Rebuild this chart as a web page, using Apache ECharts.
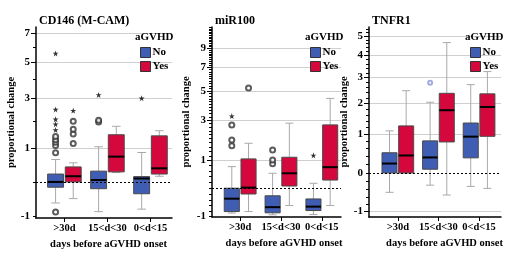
<!DOCTYPE html>
<html>
<head>
<meta charset="utf-8">
<script src="https://cdn.jsdelivr.net/npm/echarts@6/dist/echarts.min.js"></script>
<style>
  html, body { margin: 0; padding: 0; background: #fff; }
  #chart { width: 520px; height: 272px; }
</style>
</head>
<body>
<div id="chart"></div>
<script>
const categories = ['>30d', '15<d<30', '0<d<15'];
const panelTitles = ['CD146 (M-CAM)', 'miR100', 'TNFR1'];

// box stats per category: [min, Q1, median, Q3, max]
const cd146No = [[-0.59, -0.14, 0.0, 0.21, 0.63], [-0.86, -0.18, 0.05, 0.29, 1.04], [-0.78, -0.32, 0.09, 0.14, 0.85]];
const cd146Yes = [[-0.46, 0.0, 0.15, 0.41, 0.53], [0.25, 0.27, 0.72, 1.46, 1.78], [0.15, 0.21, 0.37, 1.42, 1.61]];
const mir100No = [[-0.89, -0.83, -0.35, 0.0, 0.76], [-0.96, -0.88, -0.66, -0.25, 0.51], [-0.95, -0.79, -0.64, -0.36, 0.16]];
const mir100Yes = [[-0.83, -0.19, 0.02, 1.07, 1.77], [-0.6, 0.07, 0.51, 1.14, 2.83], [-0.6, 0.27, 0.74, 2.73, 4.43]];
const tnfr1No = [[-0.47, 0.0, 0.22, 0.49, 1.1], [-0.29, 0.085, 0.37, 0.81, 2.04], [-0.32, 0.36, 0.93, 1.34, 2.71]];
const tnfr1Yes = [[0.0, 0.0, 0.42, 1.25, 2.47], [-0.54, 0.78, 1.76, 2.37, 4.66], [-0.37, 0.94, 1.87, 2.35, 3.26]];

// outliers: [category index, value]
const cd146NoCircles = [[0, -0.87], [0, 0.84], [0, 1.08], [0, 1.19], [0, 1.28], [0, 1.4], [1, 1.95], [1, 2.02]];
const cd146NoStars = [[0, 1.64], [0, 1.86], [0, 2.06], [0, 2.48], [0, 5.55], [1, 3.16], [2, 3.0]];
const cd146YesCircles = [[0, 1.15], [0, 1.49], [0, 1.67], [0, 1.98]];
const cd146YesStars = [[0, 2.43]];
const mir100NoCircles = [[0, 1.65], [0, 1.93], [0, 2.73], [1, 0.87], [1, 1.03], [1, 1.46]];
const mir100NoStars = [[0, 3.25], [2, 1.22]];
const mir100YesCircles = [[0, 5.21]];
const mir100YesStars = [];
const tnfr1NoCircles = [[1, 2.79]];
const tnfr1NoStars = [];
const tnfr1YesCircles = [];
const tnfr1YesStars = [];

// tick labels and gridlines
const cd146Labels = [-1, 1, 3, 5, 7];
const cd146Grid = [1, 3, 5, 7];
const mir100Labels = [-1, 1, 3, 5, 7, 9];
const mir100Grid = [1, 3, 5, 7, 9];
const tnfr1Labels = [-1, 0, 1, 2, 3, 4, 5];
const tnfr1Grid = [-1, 1, 2, 3, 4, 5];

// symmetric log scale of the value axis
const C = 3.5;
function tf(v) { return Math.sign(v) * Math.log(1 + Math.abs(v) / C); }
function inv(t) { return Math.sign(t) * C * (Math.exp(Math.abs(t)) - 1); }

function steps(a, b, s) {
  const out = [];
  for (let v = a; v <= b + 1e-9; v += s) out.push(+v.toFixed(2));
  return out;
}

const SERIF = 'Liberation Serif';
const BLUE = '#3f5db3';
const RED = '#d4083c';
const BOX_IN = 0.02, BOX_OUT = 0.39, BOX_MID = 0.205;
const STAR = 'path://M0,-1L0.225,-0.309L0.951,-0.309L0.363,0.118L0.588,0.809L0,0.382L-0.588,0.809L-0.363,0.118L-0.951,-0.309L-0.225,-0.309Z';

const panels = [
  { no: cd146No, yes: cd146Yes, noC: cd146NoCircles, noS: cd146NoStars, yesC: cd146YesCircles, yesS: cd146YesStars,
    labels: cd146Labels, grid: cd146Grid, minor: steps(-1, 7, 1),
    box: { left: 36, top: 27, width: 136, height: 191 }, x: [-0.66, 2.5], y: [-1.07, 7.5],
    nameGap: 16, xShift: 9, legendLeft: 135, headLeft: 130, circleColor: '#333', circleSize: 5 },
  { no: mir100No, yes: mir100Yes, noC: mir100NoCircles, noS: mir100NoStars, yesC: mir100YesCircles, yesS: mir100YesStars,
    labels: mir100Labels, grid: mir100Grid, minor: steps(-1, 11.6, 0.2),
    box: { left: 212, top: 27, width: 129, height: 190 }, x: [-0.69, 2.47], y: [-1.05, 11.7],
    nameGap: 20, xShift: 15, legendLeft: 305, headLeft: 300, circleColor: '#333', circleSize: 5 },
  { no: tnfr1No, yes: tnfr1Yes, noC: tnfr1NoCircles, noS: tnfr1NoStars, yesC: tnfr1YesCircles, yesS: tnfr1YesStars,
    labels: tnfr1Labels, grid: tnfr1Grid, minor: steps(-1, 5.4, 0.2),
    box: { left: 369, top: 27, width: 132, height: 190 }, x: [-0.71, 2.54], y: [-1.16, 5.53],
    nameGap: 15, xShift: 19, legendLeft: 465, headLeft: 460, circleColor: '#8a97d8', circleSize: 4 }
];

const textBase = { fontFamily: SERIF, fontWeight: 'bold', color: '#000' };

function boxSeries(name, i, stats, side, color) {
  return {
    type: 'custom', name: name, xAxisIndex: i, yAxisIndex: i * 2, z: 3,
    itemStyle: { color: color },
    encode: { x: 0, y: [1, 2, 3, 4, 5] },
    data: stats.map((s, c) => [c].concat(s.map(tf))),
    renderItem: function (params, api) {
      const c = api.value(0);
      const a = api.coord([c + side * BOX_IN, api.value(2)]);
      const b = api.coord([c + side * BOX_OUT, api.value(4)]);
      const x0 = Math.min(a[0], b[0]), x1 = Math.max(a[0], b[0]);
      const cx = (x0 + x1) / 2, cap = (x1 - x0) * 0.27;
      const yLo = api.coord([c, api.value(1)])[1];
      const yMed = api.coord([c, api.value(3)])[1];
      const yHi = api.coord([c, api.value(5)])[1];
      const wStyle = { stroke: '#a9a9a9', lineWidth: 1 };
      return {
        type: 'group',
        children: [
          { type: 'line', shape: { x1: cx, y1: yHi, x2: cx, y2: b[1] }, style: wStyle },
          { type: 'line', shape: { x1: cx, y1: a[1], x2: cx, y2: yLo }, style: wStyle },
          { type: 'line', shape: { x1: cx - cap, y1: yHi, x2: cx + cap, y2: yHi }, style: wStyle },
          { type: 'line', shape: { x1: cx - cap, y1: yLo, x2: cx + cap, y2: yLo }, style: wStyle },
          { type: 'rect', shape: { x: x0, y: b[1], width: x1 - x0, height: a[1] - b[1] },
            style: { fill: color, stroke: '#4a4a4a', lineWidth: 1 } },
          { type: 'line', shape: { x1: x0, y1: yMed, x2: x1, y2: yMed }, style: { stroke: '#000', lineWidth: 2 } }
        ]
      };
    }
  };
}

function outlierSeries(i, pts, side, symbol, size, color) {
  return {
    type: 'scatter', name: 'outlier', xAxisIndex: i, yAxisIndex: i * 2, z: 4,
    symbol: symbol, symbolSize: size, silent: true,
    itemStyle: symbol === 'emptyCircle' ? { color: color, borderColor: color, borderWidth: 0.9 } : { color: '#000' },
    data: pts.map(p => [p[0] + side * BOX_MID, tf(p[1])])
  };
}

const grid = [], xAxis = [], yAxis = [], series = [], legend = [];
const title = [];

panels.forEach((p, i) => {
  grid.push(Object.assign({ containLabel: false }, p.box));
  xAxis.push({
    type: 'value', gridIndex: i, min: p.x[0], max: p.x[1],
    name: 'days before aGVHD onset', nameLocation: 'middle', nameGap: 20,
    nameTextStyle: Object.assign({ fontSize: 10.5, padding: [0, 0, 0, p.xShift] }, textBase),
    axisLine: { onZero: false, lineStyle: { color: '#000', width: 1.5 } },
    axisTick: { show: true, customValues: [0, 1, 2], length: 4, lineStyle: { color: '#000' } },
    axisLabel: Object.assign({ customValues: [0, 1, 2], fontSize: 10.5, margin: 5,
      formatter: v => categories[Math.round(v)] }, textBase),
    splitLine: { show: false }
  });
  const yMin = tf(p.y[0]), yMax = tf(p.y[1]);
  yAxis.push({
    type: 'value', gridIndex: i, position: 'left', min: yMin, max: yMax,
    name: 'proportional change', nameLocation: 'middle', nameGap: p.nameGap,
    nameTextStyle: Object.assign({ fontSize: 10.5 }, textBase),
    axisLine: { show: true, onZero: false, lineStyle: { color: '#000', width: 1.5 } },
    axisTick: { show: true, customValues: p.minor.map(tf), length: 3, lineStyle: { color: '#000' } },
    axisLabel: Object.assign({ customValues: p.labels.map(tf), fontSize: 11, margin: 6,
      formatter: v => String(Math.round(inv(v))) }, textBase),
    splitLine: { show: false }
  });
  yAxis.push({
    type: 'value', gridIndex: i, position: 'left', min: yMin, max: yMax,
    axisLine: { show: false, onZero: false },
    axisTick: { show: true, customValues: p.grid.map(tf), length: 5, lineStyle: { color: '#000' } },
    axisLabel: { show: false },
    splitLine: { show: true, lineStyle: { color: '#cfcfcf', width: 1 } }
  });

  series.push({
    type: 'line', name: 'zero', xAxisIndex: i, yAxisIndex: i * 2, z: 2, data: [],
    markLine: {
      silent: true, symbol: ['none', 'none'], label: { show: false },
      lineStyle: { color: '#000', type: [2, 2], width: 1 },
      data: [{ yAxis: 0 }]
    }
  });
  series.push(boxSeries('No', i, p.no, -1, BLUE));
  series.push(boxSeries('Yes', i, p.yes, 1, RED));
  series.push(outlierSeries(i, p.noC, -1, 'emptyCircle', p.circleSize, p.circleColor));
  series.push(outlierSeries(i, p.yesC, 1, 'emptyCircle', p.circleSize, p.circleColor));
  series.push(outlierSeries(i, p.noS, -1, STAR, 6, '#000'));
  series.push(outlierSeries(i, p.yesS, 1, STAR, 6, '#000'));

  title.push({ text: panelTitles[i], left: p.box.left - 2, top: 10,
    textStyle: Object.assign({ fontSize: 12 }, textBase) });
  title.push({ text: 'aGVHD', left: p.headLeft, top: 27,
    textStyle: Object.assign({ fontSize: 11 }, textBase) });

  legend.push({
    orient: 'vertical', left: p.legendLeft, top: 42, itemWidth: 10, itemHeight: 10, itemGap: 3,
    selectedMode: false,
    textStyle: Object.assign({ fontSize: 11, padding: [0, 0, 0, -3] }, textBase),
    data: [
      { name: 'No', icon: 'rect', itemStyle: { color: BLUE, borderColor: '#333', borderWidth: 1 } },
      { name: 'Yes', icon: 'rect', itemStyle: { color: RED, borderColor: '#333', borderWidth: 1 } }
    ]
  });
});

const chart = echarts.init(document.getElementById('chart'));
chart.setOption({
  backgroundColor: '#fff',
  animation: false,
  title: title,
  legend: legend,
  grid: grid,
  xAxis: xAxis,
  yAxis: yAxis,
  series: series
});
</script>
</body>
</html>
